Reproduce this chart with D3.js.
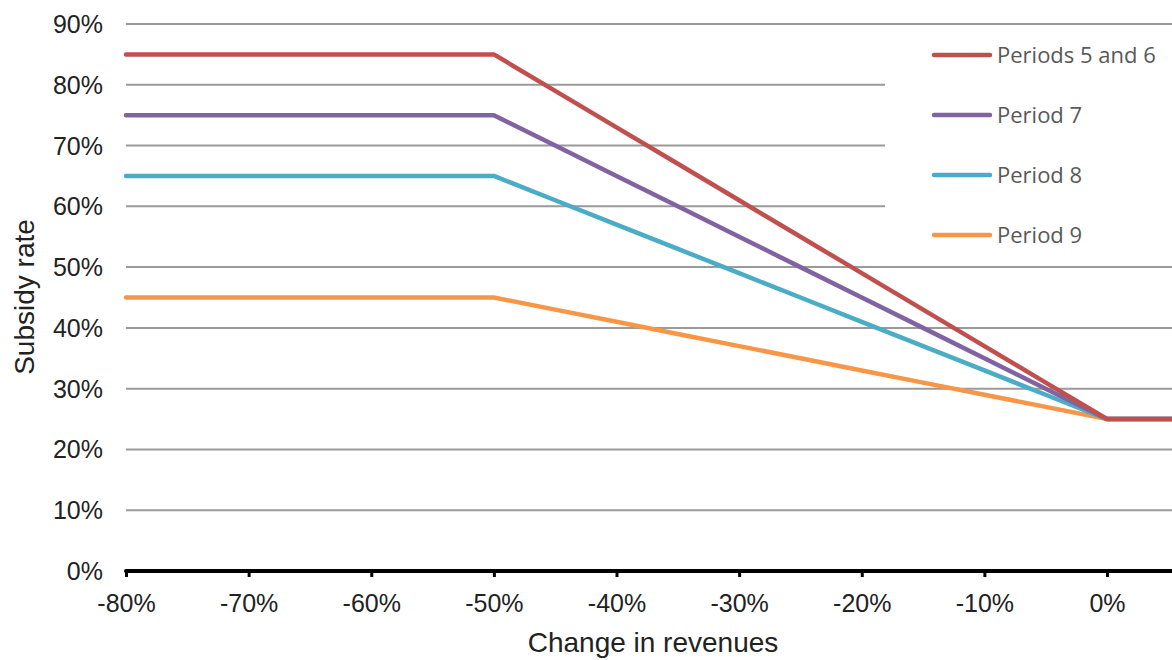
<!DOCTYPE html>
<html>
<head>
<meta charset="utf-8">
<script src="https://cdn.jsdelivr.net/npm/d3@7"></script>
<style>
  body { margin: 0; background: #fff; }
  svg { display: block; }
</style>
</head>
<body>
<script>
// change in revenues (x) and subsidy rate per period (y)
const revenueChange = [-0.80, -0.50, -0.45, -0.40, -0.35, -0.30, -0.25, -0.20, -0.15, -0.10, -0.05, 0.00, 0.053];
const periods56 = [0.85, 0.85, 0.79, 0.73, 0.67, 0.61, 0.55, 0.49, 0.43, 0.37, 0.31, 0.25, 0.25];
const period7   = [0.75, 0.75, 0.70, 0.65, 0.60, 0.55, 0.50, 0.45, 0.40, 0.35, 0.30, 0.25, 0.25];
const period8   = [0.65, 0.65, 0.61, 0.57, 0.53, 0.49, 0.45, 0.41, 0.37, 0.33, 0.29, 0.25, 0.25];
const period9   = [0.45, 0.45, 0.43, 0.41, 0.39, 0.37, 0.35, 0.33, 0.31, 0.29, 0.27, 0.25, 0.25];
const seriesNames = ["Periods 5 and 6", "Period 7", "Period 8", "Period 9"];
const seriesColors = ["#C0504D", "#8064A2", "#4BACC6", "#F79646"];
const xTicks = [-0.8, -0.7, -0.6, -0.5, -0.4, -0.3, -0.2, -0.1, 0];
const yTicks = [0, 0.1, 0.2, 0.3, 0.4, 0.5, 0.6, 0.7, 0.8, 0.9];

const width = 1172, height = 660;
const axisFont = "Liberation Sans, Arial, sans-serif";
const pct = d => d3.format(".0%")(d).replace("−", "-");

const svg = d3.select("body").append("svg")
    .attr("width", width)
    .attr("height", height);

const x = d3.scaleLinear().domain([-0.8, 0.053]).range([126, 1172]);
const y = d3.scaleLinear().domain([0, 0.9]).range([571, 24]);

// gridlines
svg.append("g")
    .selectAll("line")
    .data(yTicks.filter(d => d > 0))
    .enter()
    .append("line")
    .attr("x1", x(-0.8))
    .attr("x2", width)
    .attr("y1", d => y(d))
    .attr("y2", d => y(d))
    .attr("stroke", "#9a9a9a")
    .attr("stroke-width", 2);

// y labels
svg.append("g")
    .selectAll("text")
    .data(yTicks)
    .enter()
    .append("text")
    .attr("x", 103)
    .attr("y", d => y(d))
    .attr("dy", "0.36em")
    .attr("text-anchor", "end")
    .style("font-family", axisFont)
    .style("font-size", "25px")
    .style("fill", "#222")
    .text(pct);

// x axis
const xAxis = d3.axisBottom(x)
    .tickValues(xTicks)
    .tickSize(6)
    .tickPadding(17)
    .tickFormat(pct);

const gx = svg.append("g")
    .attr("transform", `translate(0,${y(0)})`)
    .call(xAxis);
gx.select(".domain")
    .attr("d", `M${x(-0.8)},0H${width}`)
    .attr("stroke", "#000")
    .attr("stroke-width", 4)
    .attr("stroke-linecap", "round");
gx.selectAll(".tick line").attr("stroke", "#000").attr("stroke-width", 3);
gx.selectAll(".tick text")
    .style("font-family", axisFont)
    .style("font-size", "25px")
    .style("fill", "#222");

// axis titles
svg.append("text")
    .attr("x", 653)
    .attr("y", 652)
    .attr("text-anchor", "middle")
    .style("font-family", axisFont)
    .style("font-size", "28px")
    .style("fill", "#222")
    .text("Change in revenues");

svg.append("text")
    .attr("transform", "translate(34,297) rotate(-90)")
    .attr("text-anchor", "middle")
    .style("font-family", axisFont)
    .style("font-size", "28px")
    .style("fill", "#222")
    .text("Subsidy rate");

// lines
const allSeries = [periods56, period7, period8, period9];
const line = d3.line()
    .x((d, i) => x(revenueChange[i]))
    .y(d => y(d));

// draw bottom series first so red sits on top
svg.append("g")
    .selectAll("path")
    .data(allSeries.map((vals, i) => ({ vals, color: seriesColors[i] })).reverse())
    .enter()
    .append("path")
    .attr("d", d => line(d.vals))
    .attr("fill", "none")
    .attr("stroke", d => d.color)
    .attr("stroke-width", 4.5)
    .attr("stroke-linejoin", "round")
    .attr("stroke-linecap", "round");

// legend with white box covering gridlines
const legend = svg.append("g");
legend.append("rect")
    .attr("x", 885)
    .attr("y", 30)
    .attr("width", 287)
    .attr("height", 226)
    .attr("fill", "#fff");

const legendItems = legend.selectAll("g")
    .data(seriesNames)
    .enter()
    .append("g")
    .attr("transform", (d, i) => `translate(0,${55 + i * 60})`);

legendItems.append("line")
    .attr("x1", 934)
    .attr("x2", 990)
    .attr("stroke", (d, i) => seriesColors[i])
    .attr("stroke-width", 4.5)
    .attr("stroke-linecap", "round");

legendItems.append("text")
    .attr("x", 997)
    .attr("dy", "0.35em")
    .style("font-family", "Open Sans, sans-serif")
    .style("font-size", "22px")
    .style("fill", "#595959")
    .text(d => d);
</script>
</body>
</html>
